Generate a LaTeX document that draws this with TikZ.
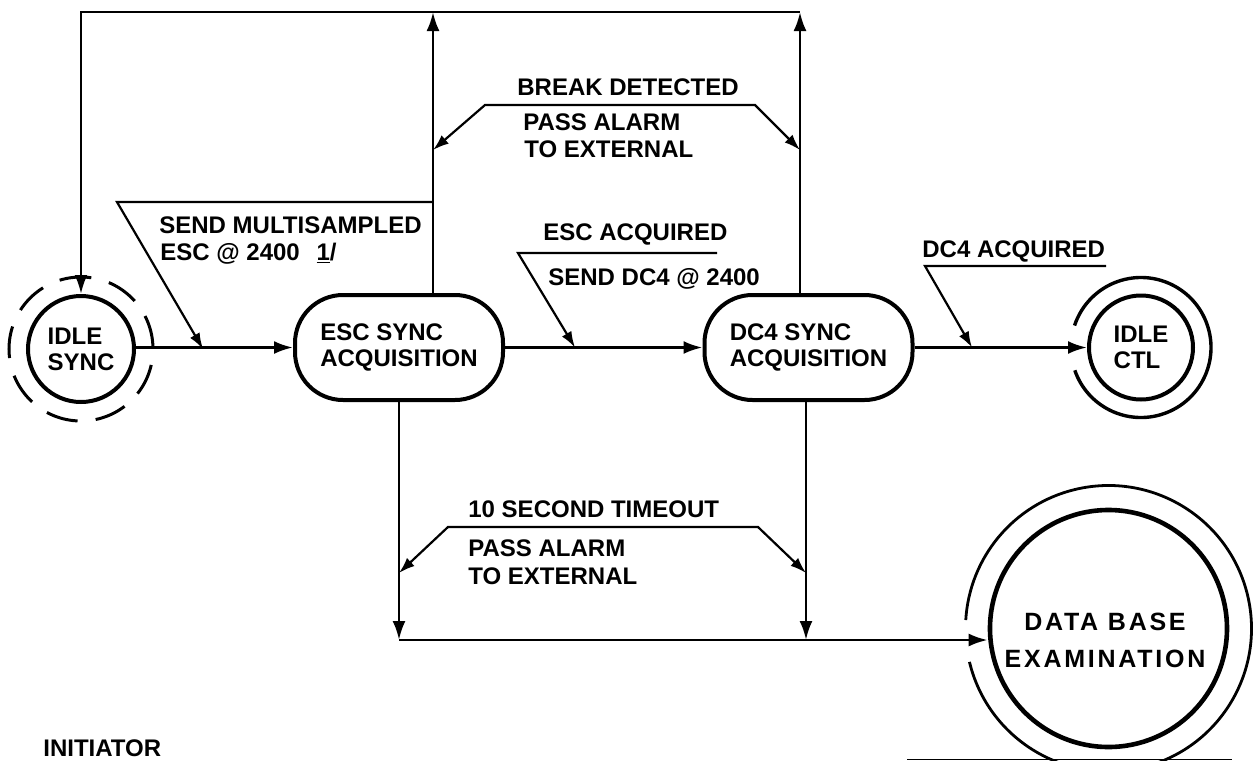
\documentclass[tikz,border=0pt]{standalone}
\usepackage{fontspec}
\setmainfont{Liberation Sans}
\usetikzlibrary{arrows.meta,calc}
\begin{document}
\begin{tikzpicture}[x=0.5pt,y=-0.5pt,
  every node/.style={font=\fontsize{12}{13}\selectfont\bfseries},
  conn/.style={line width=1.4pt},
  arr/.style={-{Latex[length=9.5pt,width=6.5pt]}},
  larr/.style={-{Latex[length=8pt,width=5.5pt]}},
  biarr/.style={{Latex[length=8pt,width=5.5pt]}-{Latex[length=8pt,width=5.5pt]}},
  lead/.style={line width=1.1pt},
  stbox/.style={draw,line width=2pt,rounded corners=24pt,minimum width=104pt,minimum height=52.5pt,align=left,inner sep=0pt},
  circ/.style={draw,circle,line width=2pt,inner sep=0pt,align=left},
  lbl/.style={anchor=base west,inner sep=0pt}
]
\useasboundingbox (0,0) rectangle (1260,761);

% states
\node[stbox] (esc) at (399,347.5) {ESC SYNC\\ACQUISITION};
\node[stbox] (dc4) at (808.5,347.5) {DC4 SYNC\\ACQUISITION};
\node[circ,minimum size=53pt] (isync) at (81,349) {IDLE\\SYNC};
\node[circ,minimum size=52pt] (ictl) at (1141,347.5) {IDLE\\CTL};
\node[circ,minimum size=118.5pt,line width=2.3pt] (db) at (1108.5,628.5) {};
\node[align=center,inner sep=0pt,font=\fontsize{12.5}{18.5}\selectfont\bfseries\addfontfeature{LetterSpace=11}] (dbtext) at (1105,640) {DATA BASE\\EXAMINATION};

% outer rings
\draw[line width=1.5pt,dash pattern=on 16pt off 9.13pt,dash phase=24pt] (isync.center) circle[radius=36pt];
\draw[line width=1.7pt] ($(ictl.center)+(199:35pt)$) arc[start angle=199,end angle=521.7,radius=35pt];
\draw[line width=1.4pt] ($(db.center)+(193.5:71.5pt)$) arc[start angle=193.5,end angle=536.6,radius=71.5pt];

% main connectors
\coordinate (tr) at (800,12);
\coordinate (tl) at (isync.north |- tr);
\coordinate (escup) at ($(esc.north)+(34,0)$);
\coordinate (dcup) at ($(dc4.north)+(-8.5,0)$);
\coordinate (dcdn) at ($(dc4.south)+(-2.5,0)$);
\coordinate (bl) at ($(esc.south |- 0,640)$);
\draw[conn,arr] (tr) -- (tl) -- (isync.north);
\draw[conn,arr] (escup) -- (escup |- tr);
\draw[conn,arr] (dcup) -- (dcup |- tr);
\draw[conn,arr] (esc.west -| isync.east) -- (esc.west);
\draw[conn,arr] (esc.east) -- (dc4.west);
\draw[conn,arr] (dc4.east) -- (ictl.west);
\draw[conn,arr] (esc.south) -- (bl);
\draw[conn,arr] (dcdn) -- (dcdn |- bl);
\draw[conn,arr] (bl) -- (bl -| db.west);

% leaders
\coordinate (m1) at (escup |- 0,202);
\coordinate (m2) at (117,202);
\coordinate (m3) at (203,349);
\draw[lead,larr] (m1) -- (m2) -- (m3);
\coordinate (e1) at (717,253);
\coordinate (e2) at (518,253);
\coordinate (e3) at (575,347.5);
\draw[lead,larr] (e1) -- (e2) -- (e3);
\coordinate (d1) at (1106,266);
\coordinate (d2) at (925,266);
\coordinate (d3) at (972,347.5);
\draw[lead,larr] (d1) -- (d2) -- (d3);
\coordinate (b1) at (escup |- 0,150);
\coordinate (b2) at (485,105);
\coordinate (b3) at (755,105);
\coordinate (b4) at (dcup |- 0,150);
\draw[lead,biarr] (b1) -- (b2) -- (b3) -- (b4);
\coordinate (t1) at (esc.south |- 0,573);
\coordinate (t2) at (448,527);
\coordinate (t3) at (758,527);
\coordinate (t4) at (dcdn |- 0,573);
\draw[lead,biarr] (t1) -- (t2) -- (t3) -- (t4);

% labels
\node[lbl] (la1) at (159,233) {SEND MULTISAMPLED};
\node[lbl] (la2) at (160,260) {ESC @ 2400\hspace{5pt} \underline{1}/};
\node[lbl] (lb1) at (517,95) {BREAK DETECTED};
\node[lbl] (lb2) at (523,130) {PASS ALARM};
\node[lbl] (lb3) at (524,157) {TO EXTERNAL};
\node[lbl] (lc1) at (543,240) {ESC ACQUIRED};
\node[lbl] (lc2) at (548,285) {SEND DC4 @ 2400};
\node[lbl] (ld1) at (922,257) {DC4 ACQUIRED};
\node[lbl] (le1) at (468,517) {10 SECOND TIMEOUT};
\node[lbl] (le2) at (468,556) {PASS ALARM};
\node[lbl] (le3) at (468,584) {TO EXTERNAL};
\node[lbl] (lf1) at (43,756) {INITIATOR};

\draw[line width=0.8pt] (907,759.5) -- (1232,759.5);
\end{tikzpicture}
\end{document}
